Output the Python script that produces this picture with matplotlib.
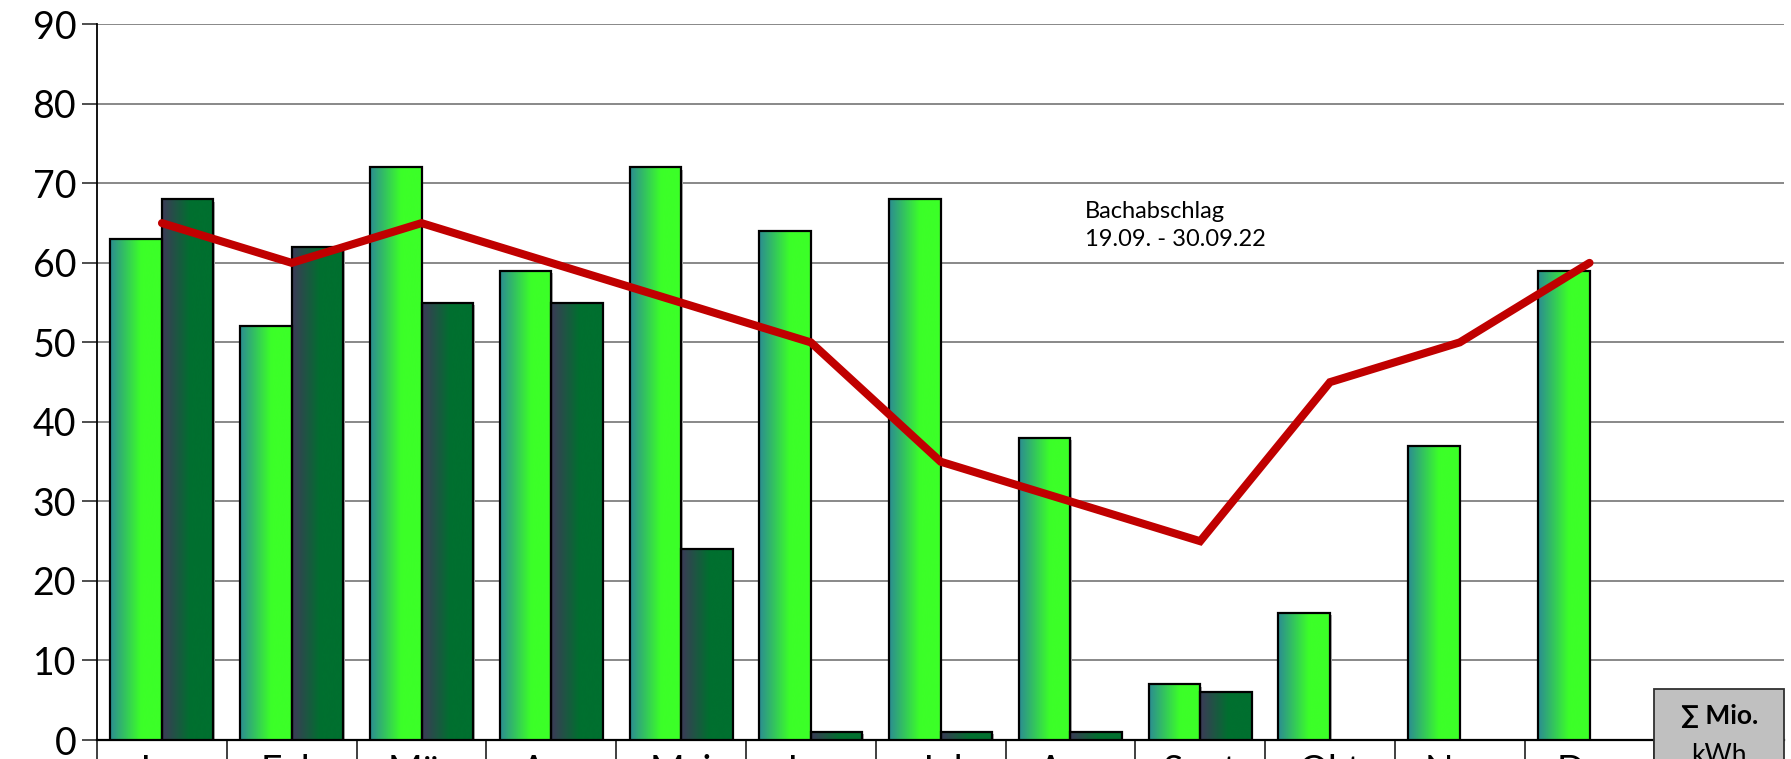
import numpy as np
import matplotlib.pyplot as plt
from matplotlib.patches import Rectangle
from matplotlib.colors import LinearSegmentedColormap

plt.rcParams['font.family'] = ['Lato', 'DejaVu Sans']

# data
months = ['Jan', 'Feb', 'Mär', 'Apr', 'Mai', 'Jun', 'Jul', 'Aug', 'Sept', 'Okt', 'Nov', 'Dez']
series_a = [63, 52, 72, 59, 72, 64, 68, 38, 7, 16, 37, 59]
series_b = [68, 62, 55, 55, 24, 1, 1, 1, 6, 0, 0, 0]
line_vals = [65, 60, 65, 60, 55, 50, 35, 30, 25, 45, 50, 60]
yticks = [0, 10, 20, 30, 40, 50, 60, 70, 80, 90]

DPI = 100
fig = plt.figure(figsize=(1791/DPI, 759/DPI), dpi=DPI)
ax = fig.add_axes([0.0542, 0.025, 0.942, 0.943])

cmap_a = LinearSegmentedColormap.from_list('a', [(0, '#2c8c92'), (0.6, '#3cff28'), (1, '#3cff28')])
cmap_b = LinearSegmentedColormap.from_list('b', [(0, '#3d3a58'), (0.55, '#00702f'), (1, '#00702f')])
grad = np.linspace(0, 1, 256).reshape(1, -1)

x = np.arange(len(months))
w = 0.397

def gradient_bar(x0, h, cmap):
    if h <= 0:
        return
    # soft shadow
    ax.add_patch(Rectangle((x0 + 0.012, -0.3), w, h, facecolor='#b0b0b0',
                           edgecolor='none', zorder=2))
    ax.imshow(grad, cmap=cmap, extent=(x0, x0 + w, 0, h), aspect='auto',
              interpolation='bicubic', zorder=3)
    ax.add_patch(Rectangle((x0, 0), w, h, facecolor='none', edgecolor='black',
                           linewidth=1.6, zorder=4))

for i in range(len(months)):
    gradient_bar(x[i] - w, series_a[i], cmap_a)
    gradient_bar(x[i], series_b[i], cmap_b)

ax.plot(x, line_vals, color='#c00000', linewidth=5.8, solid_capstyle='round',
        solid_joinstyle='miter', zorder=5)

ax.text(7.11, 64.7, 'Bachabschlag\n19.09. - 30.09.22', fontsize=17,
        va='center', ha='left', linespacing=1.45, zorder=6)

ax.set_xlim(-0.5, 12.5)
ax.set_ylim(0, 90)
ax.set_yticks(yticks)
ax.set_yticklabels([str(v) for v in yticks], fontsize=27)
ax.set_xticks([])
ax.yaxis.grid(True, color='#7f7f7f', linewidth=1.3, zorder=0)
ax.set_axisbelow(True)
ax.tick_params(axis='y', length=11, width=1.3, color='#404040', pad=4)
for s in ['top', 'right']:
    ax.spines[s].set_visible(False)
ax.spines['left'].set_linewidth(1.3)
ax.spines['bottom'].set_linewidth(1.6)

# table-like labels under the axis
for i, m in enumerate(months):
    ax.text(x[i], -1.7, m, fontsize=27, ha='center', va='top', clip_on=False)
for k in range(13):
    ax.plot([k - 0.5, k - 0.5], [0, -5], color='#303030', linewidth=1.3,
            clip_on=False, zorder=1)

ax.add_patch(Rectangle((11.5, -6), 1.0, 12.4, facecolor='#c0c0c0',
                       edgecolor='#303030', linewidth=1.3, clip_on=False, zorder=6))
ax.text(12.0, 3.0, '∑ Mio.', fontsize=19, fontweight='bold', ha='center',
        va='center', zorder=7, clip_on=False)
ax.text(12.0, -2.0, 'kWh', fontsize=19, ha='center', va='center', zorder=7,
        clip_on=False)

fig.savefig('out.png', dpi=DPI)
